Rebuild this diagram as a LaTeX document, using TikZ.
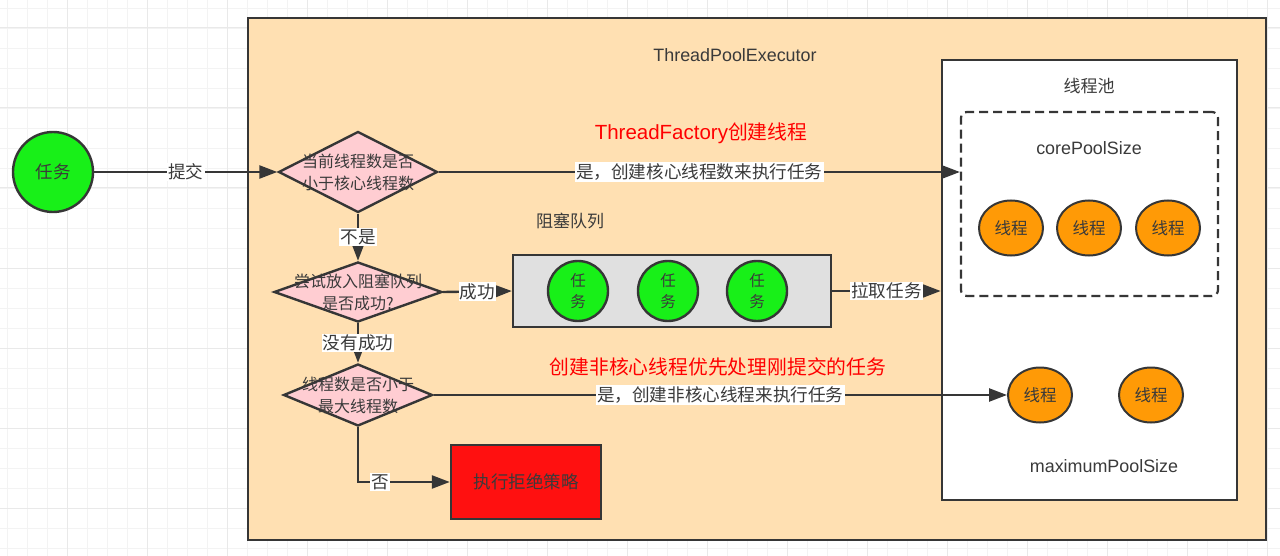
\documentclass[tikz,border=0pt]{standalone}
\usepackage{fontspec}
\setmainfont{Noto Sans CJK SC}
\newfontfamily\lat{Liberation Sans}
\usetikzlibrary{shapes.geometric,arrows.meta}
\definecolor{peach}{HTML}{FFE0B2}
\definecolor{pinkd}{HTML}{FFCDD2}
\definecolor{qgray}{HTML}{E0E0E0}
\definecolor{tgreen}{HTML}{18F018}
\definecolor{torange}{HTML}{FF9A06}
\definecolor{rred}{HTML}{FF1010}
\definecolor{tc}{HTML}{3A3A3A}
\definecolor{lc}{HTML}{363636}
\definecolor{gminor}{HTML}{F3F3F3}
\definecolor{gmajor}{HTML}{E9E9E9}
\newcommand\fsz[2]{\fontsize{#1}{#2}\selectfont}
\begin{document}
\begin{tikzpicture}[x=1pt,y=-1pt,
  box/.style={draw=lc, rectangle, inner sep=0pt},
  dia/.style={draw=lc, line width=2.4pt, fill=pinkd, diamond, inner sep=0pt},
  diatxt/.style={text=tc, align=center, font=\fsz{16}{22}},
  task/.style={draw=lc, line width=2.4pt, fill=tgreen, circle, inner sep=0pt},
  thr/.style={draw=lc, line width=2pt, fill=torange, ellipse, inner sep=0pt,
     minimum width=64pt, minimum height=55pt, text=tc, font=\fsz{16.5}{19}},
  arr/.style={draw=lc, line width=2.4pt, -{Triangle[length=18pt,width=13pt]}},
  lbl/.style={fill=white, inner sep=1.2pt, text=tc, font=\fsz{17.6}{20}},
  plain/.style={text=tc, inner sep=0pt},
  redt/.style={text=red, inner sep=0pt, font=\fsz{19.8}{22}}
]
\useasboundingbox (0,0) rectangle (1280,556);
\fill[white] (0,0) rectangle (1280,556);
% grid
\foreach \x in {7,27,...,1280} \draw[gminor, line width=0.8pt] (\x,0) -- (\x,556);
\foreach \y in {8,28,...,556} \draw[gminor, line width=0.8pt] (0,\y) -- (1280,\y);
\foreach \x in {67,147,...,1280} \draw[gmajor, line width=1pt] (\x,0) -- (\x,556);
\foreach \y in {28,108,...,556} \draw[gmajor, line width=1pt] (0,\y) -- (1280,\y);

% containers
\node[box, line width=2.4pt, fill=peach, minimum width=1018pt, minimum height=522pt] (tpe) at (757,279) {};
\node[plain, font=\lat\fsz{17.9}{20}] (tpetitle) at (735,55) {ThreadPoolExecutor};
\node[box, line width=2.6pt, fill=white, minimum width=295pt, minimum height=440pt] (pool) at (1089.5,280) {};
\node[plain, font=\fsz{17}{20}] (pooltitle) at (1089,86) {线程池};
\node[box, line width=2.2pt, dash pattern=on 9pt off 5pt, rounded corners=6pt, minimum width=257pt, minimum height=184pt] (core) at (1089.5,204) {};
\node[plain, font=\lat\fsz{17.9}{20}] (coretitle) at (1089,148) {corePoolSize};
\node[plain, font=\lat\fsz{17.9}{20}] (maxtitle) at (1104,466) {maximumPoolSize};

% threads
\node[thr] (c1) at (1011,228) {线程};
\node[thr] (c2) at (1089,228) {线程};
\node[thr] (c3) at (1168,228) {线程};
\node[thr] (m1) at (1040,395) {线程};
\node[thr] (m2) at (1151,395) {线程};

% task
\node[task, minimum size=80pt, text=tc, font=\fsz{17.5}{20}] (task) at (53,172) {任务};

% diamonds
\node[dia, minimum width=159pt, minimum height=81pt] (d1) at (358,172) {};
\node[diatxt] (d1t) at (d1) {当前线程数是否\\小于核心线程数};
\node[dia, minimum width=168pt, minimum height=60pt] (d2) at (358,292) {};
\node[diatxt] (d2t) at (d2) {尝试放入阻塞队列\\是否成功?};
\node[dia, minimum width=149pt, minimum height=62pt] (d3) at (358,395) {};
\node[diatxt] (d3t) at (d3) {线程数是否小于\\最大线程数};

% queue
\node[box, line width=2.4pt, fill=qgray, minimum width=318pt, minimum height=72pt] (queue) at (672,291) {};
\node[plain, font=\fsz{17}{20}] (qtitle) at (570,221) {阻塞队列};
\foreach \i/\x in {1/578,2/668,3/757}
  \node[task, minimum size=60pt, text=tc, align=center, font=\fsz{15.5}{21}] (q\i) at (\x,291) {任\\务};

% reject
\node[box, line width=2.4pt, fill=rred, minimum width=150pt, minimum height=74pt, text=tc, font=\fsz{17.5}{20}] (reject) at (526,482) {执行拒绝策略};

% red notes
\node[redt] (note1) at (701,133) {{\lat\fsz{20.5}{22}ThreadFactory}创建线程};
\node[redt] (note2) at (718,367) {创建非核心线程优先处理刚提交的任务};

% connectors
\coordinate (coreIn) at (d1.east -| core.west);
\coordinate (poolIn) at (queue.east -| pool.west);
\draw[arr] (task) -- node[lbl]{提交} (d1.west);
\draw[arr] (d1.east) -- node[lbl]{是，创建核心线程数来执行任务} (coreIn);
\draw[arr] (d1.south) -- node[lbl]{不是} (d2.north);
\draw[arr] (d2.east) -- node[lbl]{成功} (queue.west);
\draw[arr] (queue.east) -- node[lbl]{拉取任务} (poolIn);
\draw[arr] (d2.south) -- node[lbl]{没有成功} (d3.north);
\draw[arr] (d3.east) -- node[lbl]{是，创建非核心线程来执行任务} (m1.west);
\draw[arr] (d3.south) |- node[lbl, pos=0.62]{否} (reject.west);
\end{tikzpicture}
\end{document}
